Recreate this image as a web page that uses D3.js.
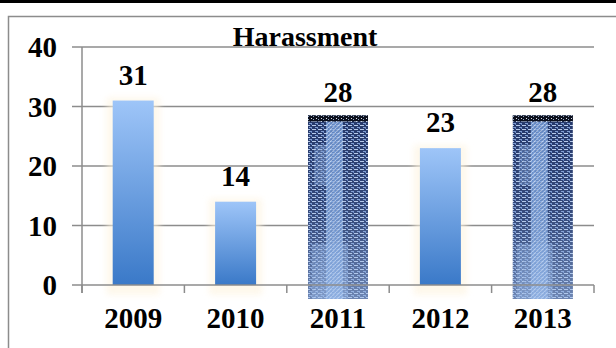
<!DOCTYPE html>
<html>
<head>
<meta charset="utf-8">
<script src="https://cdn.jsdelivr.net/npm/d3@7/dist/d3.min.js"></script>
<style>
  html, body { margin: 0; padding: 0; background: #fff; }
  svg { display: block; }
  text { font-family: "Liberation Serif", "Times New Roman", serif; font-weight: bold; fill: #000; }
</style>
</head>
<body>
<svg id="chart" width="616" height="348"></svg>
<script>
// Harassment cases per year
const years = ["2009", "2010", "2011", "2012", "2013"];
const cases = [31, 14, 28, 23, 28];
const yTicks = [0, 10, 20, 30, 40];
const chartTitle = "Harassment";

// years whose bars are drawn with the textured fill
const texturedYears = new Set(["2011", "2013"]);

const svg = d3.select("#chart");
const W = 616, H = 348;
const plot = { left: 82, right: 594, top: 47, bottom: 285 };

const x = d3.scaleBand().domain(years).range([plot.left, plot.right]).padding(0);
const y = d3.scaleLinear().domain([0, 40]).range([plot.bottom, plot.top]);
const barW = 41;

const defs = svg.append("defs");

// vertical blue gradient for the plain bars
const grad = defs.append("linearGradient").attr("id", "barGrad")
  .attr("x1", 0).attr("y1", 0).attr("x2", 0).attr("y2", 1);
grad.append("stop").attr("offset", "0%").attr("stop-color", "#9ec5f8");
grad.append("stop").attr("offset", "100%").attr("stop-color", "#3a79c8");

// soft halo behind plain bars
const glow = defs.append("filter").attr("id", "glow")
  .attr("x", "-50%").attr("y", "-20%").attr("width", "200%").attr("height", "140%");
glow.append("feGaussianBlur").attr("stdDeviation", 3);

// textured fill: navy with pale dashes
const pat = defs.append("pattern").attr("id", "texDark")
  .attr("patternUnits", "userSpaceOnUse").attr("width", 6).attr("height", 4);
pat.append("rect").attr("width", 6).attr("height", 4).attr("fill", "#25386a");
pat.append("rect").attr("x", 0).attr("y", 1).attr("width", 4).attr("height", 1).attr("fill", "#b8cbeb");
pat.append("rect").attr("x", 3).attr("y", 3).attr("width", 3).attr("height", 1).attr("fill", "#7f9dd2");
pat.append("rect").attr("x", 5).attr("y", 0).attr("width", 1).attr("height", 1).attr("fill", "#5d7fbe");

// textured fill: lighter hatched core
const pat2 = defs.append("pattern").attr("id", "texLight")
  .attr("patternUnits", "userSpaceOnUse").attr("width", 4).attr("height", 4);
pat2.append("rect").attr("width", 4).attr("height", 4).attr("fill", "#7098d6");
pat2.append("path").attr("d", "M0,4 L4,0").attr("stroke", "#c6d8f4").attr("stroke-width", 1.2);

// textured fill: dark speckled cap
const pat3 = defs.append("pattern").attr("id", "texCap")
  .attr("patternUnits", "userSpaceOnUse").attr("width", 5).attr("height", 3);
pat3.append("rect").attr("width", 5).attr("height", 3).attr("fill", "#0b0f1c");
pat3.append("rect").attr("x", 1).attr("y", 1).attr("width", 1).attr("height", 1).attr("fill", "#d8dde8");
pat3.append("rect").attr("x", 3).attr("y", 2).attr("width", 1).attr("height", 1).attr("fill", "#8ea4c8");

const fade = defs.append("linearGradient").attr("id", "texFade")
  .attr("x1", 0).attr("y1", 0).attr("x2", 0).attr("y2", 1);
fade.append("stop").attr("offset", "0%").attr("stop-color", "#9fbde8").attr("stop-opacity", 0);
fade.append("stop").attr("offset", "55%").attr("stop-color", "#9fbde8").attr("stop-opacity", 0.15);
fade.append("stop").attr("offset", "100%").attr("stop-color", "#a9c6ef").attr("stop-opacity", 0.55);

// page rule and chart frame
svg.append("rect").attr("x", 0).attr("y", 0).attr("width", W).attr("height", 3).attr("fill", "#000");
svg.append("path")
  .attr("d", `M8.5,${H + 2} L8.5,16.5 L${W + 2},16.5`)
  .attr("fill", "none").attr("stroke", "#8c8c8c").attr("stroke-width", 1.5);

// gridlines with left ticks
const grid = svg.append("g");
grid.selectAll("line").data(yTicks.filter(t => t > 0)).join("line")
  .attr("x1", plot.left - 10).attr("x2", plot.right)
  .attr("y1", d => y(d)).attr("y2", d => y(d))
  .attr("stroke", "#8c8c8c").attr("stroke-width", 1.5);

// y tick labels
svg.append("g").selectAll("text").data(yTicks).join("text")
  .attr("x", 57).attr("y", d => y(d) + 10)
  .attr("text-anchor", "end").attr("font-size", 29)
  .text(d => d);

// bars
const bars = svg.append("g");
years.forEach((yr, i) => {
  const cx = x(yr) + x.bandwidth() / 2;
  const top = y(cases[i]);
  if (texturedYears.has(yr)) {
    const g = bars.append("g");
    const x0 = cx - 30, w = 60, t = top - 3, h = plot.bottom + 14 - t;
    g.append("rect").attr("x", x0).attr("y", t).attr("width", w).attr("height", h).attr("fill", "url(#texDark)");
    g.append("rect").attr("x", cx - 12).attr("y", t + 6).attr("width", 17).attr("height", h - 6).attr("fill", "url(#texLight)").attr("opacity", 0.8);
    g.append("rect").attr("x", cx - 24).attr("y", t + h * 0.16).attr("width", 16).attr("height", h * 0.22).attr("fill", "url(#texLight)").attr("opacity", 0.4);
    g.append("rect").attr("x", cx - 26).attr("y", t + h * 0.7).attr("width", 36).attr("height", h * 0.3).attr("fill", "url(#texLight)").attr("opacity", 0.4);
    g.append("rect").attr("x", x0).attr("y", t).attr("width", w).attr("height", h).attr("fill", "url(#texFade)");
    g.append("rect").attr("x", x0).attr("y", t).attr("width", w).attr("height", 6).attr("fill", "url(#texCap)");
  } else {
    bars.append("rect")
      .attr("x", cx - barW / 2 - 6).attr("y", top - 3)
      .attr("width", barW + 12).attr("height", plot.bottom + 10 - (top - 3))
      .attr("fill", "#fdf3de").attr("opacity", 0.6).attr("filter", "url(#glow)");
    bars.append("rect")
      .attr("x", cx - barW / 2).attr("y", top)
      .attr("width", barW).attr("height", plot.bottom - top)
      .attr("fill", "url(#barGrad)");
  }
});

// category axis with boundary ticks
const axis = svg.append("g");
axis.append("line").attr("x1", plot.left - 10).attr("x2", plot.right)
  .attr("y1", plot.bottom).attr("y2", plot.bottom)
  .attr("stroke", "#8c8c8c").attr("stroke-width", 1.5);
axis.append("line").attr("x1", plot.left).attr("x2", plot.left)
  .attr("y1", plot.top).attr("y2", plot.bottom + 8)
  .attr("stroke", "#8c8c8c").attr("stroke-width", 1.5);
axis.selectAll("line.tick").data(years.map(d => x(d) + x.bandwidth()).concat([x(years[0])]))
  .join("line").attr("class", "tick")
  .attr("x1", d => d).attr("x2", d => d)
  .attr("y1", plot.bottom).attr("y2", plot.bottom + 8)
  .attr("stroke", "#8c8c8c").attr("stroke-width", 1.5);

axis.selectAll("text").data(years).join("text")
  .attr("x", d => x(d) + x.bandwidth() / 2).attr("y", 328)
  .attr("text-anchor", "middle").attr("font-size", 29)
  .text(d => d);

// value labels
svg.append("g").selectAll("text").data(years).join("text")
  .attr("x", d => x(d) + x.bandwidth() / 2)
  .attr("y", (d, i) => y(cases[i]) - 16)
  .attr("text-anchor", "middle").attr("font-size", 29)
  .text((d, i) => cases[i]);

// title
svg.append("text").attr("x", 305).attr("y", 46)
  .attr("text-anchor", "middle").attr("font-size", 28)
  .text(chartTitle);
</script>
</body>
</html>
